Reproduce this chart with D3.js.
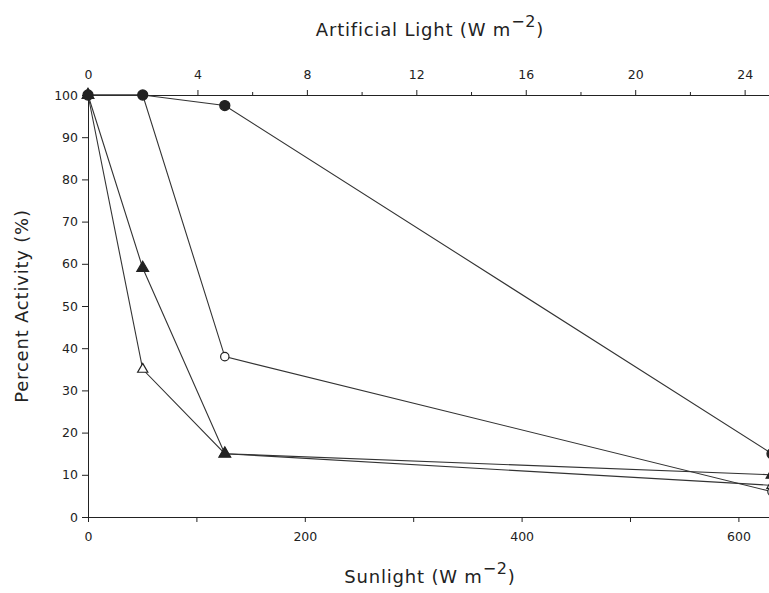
<!DOCTYPE html>
<html><head><meta charset="utf-8">
<script src="https://cdn.jsdelivr.net/npm/d3@7"></script>
<style>body{margin:0;background:#fff}svg{display:block}text{font-family:"DejaVu Sans",sans-serif;fill:#222}</style>
</head><body><svg id="c" width="769" height="593"></svg>
<script>
// Data: x in artificial light units (W m^-2), y percent activity
const lightLevels = [0, 2, 5, 25];
const filledCircle = [100, 100, 97.5, 15];
const openCircle = [100, 100, 38, 6];
const filledTriangle = [100, 59, 15, 10];
const openTriangle = [100, 35, 15, 7.5];
const yTicks = [0,10,20,30,40,50,60,70,80,90,100];
const topMajor = [0,4,8,12,16,20,24];
const topMinor = [2,6,10,14,18,22];
const bottomMajor = [0,200,400,600];
const bottomMinor = [100,300,500];

const svg = d3.select("#c");
const L = 88, R = 772, T = 95, B = 517;
const xTop = d3.scaleLinear().domain([0,25]).range([L,R]);
const xBot = d3.scaleLinear().domain([0,631]).range([L,R]);
const y = d3.scaleLinear().domain([0,100]).range([B,T]);
const ink = "#222";

function styleAxis(g){
  g.select(".domain").attr("stroke",ink);
  g.selectAll("line").attr("stroke",ink);
  g.selectAll("text").attr("font-size",12.5).attr("fill",ink).style("font-family","DejaVu Sans");
}
// Left axis
svg.append("g").attr("transform",`translate(${L},0)`)
  .call(d3.axisLeft(y).tickValues(yTicks).tickSize(6).tickPadding(4)).call(styleAxis);

// Top axis
svg.append("g").attr("transform",`translate(0,${T})`)
  .call(d3.axisTop(xTop).tickValues(topMajor).tickSize(5).tickPadding(11).tickSizeOuter(0)).call(styleAxis);
svg.append("g").attr("transform",`translate(0,${T})`)
  .call(d3.axisTop(xTop).tickValues(topMinor).tickSize(3).tickFormat(""))
  .call(g=>g.select(".domain").remove()).selectAll("line").attr("stroke",ink);

// Bottom axis
svg.append("g").attr("transform",`translate(0,${B})`)
  .call(d3.axisBottom(xBot).tickValues(bottomMajor).tickSize(5).tickPadding(10).tickSizeOuter(0)).call(styleAxis);
svg.append("g").attr("transform",`translate(0,${B})`)
  .call(d3.axisBottom(xBot).tickValues(bottomMinor).tickSize(5).tickFormat(""))
  .call(g=>g.select(".domain").remove()).selectAll("line").attr("stroke",ink);

// Titles
function unitTitle(x, yy, label){
  const t = svg.append("text").attr("text-anchor","middle").attr("font-size",18)
    .attr("letter-spacing","0.8px").attr("transform",`translate(${x},${yy})`);
  t.append("tspan").text(label + " (W m");
  t.append("tspan").attr("dy",-9).attr("font-size",16).text("\u22122");
  t.append("tspan").attr("dy",9).text(")");
}
unitTitle(430, 36, "Artificial Light");
unitTitle(430, 583, "Sunlight");
svg.append("text").attr("text-anchor","middle").attr("font-size",18).attr("letter-spacing","0.8px")
  .attr("transform","translate(28,306) rotate(-90)").text("Percent Activity (%)");

// Series
const series = [
  {vals: filledCircle, shape: d3.symbolCircle, size: 80, fill: ink},
  {vals: openCircle, shape: d3.symbolCircle, size: 55, fill: "#fff"},
  {vals: filledTriangle, shape: d3.symbolTriangle, size: 60, fill: ink},
  {vals: openTriangle, shape: d3.symbolTriangle, size: 45, fill: "#fff"}
];
const line = d3.line().x((d,i)=>xTop(lightLevels[i])).y(d=>y(d));
series.forEach(s=>{
  svg.append("path").attr("d", line(s.vals)).attr("fill","none").attr("stroke","#333").attr("stroke-width",1.1);
});
[...series].reverse().forEach(s=>{
  svg.append("g").selectAll("path").data(s.vals).join("path")
    .attr("transform",(d,i)=>`translate(${xTop(lightLevels[i])},${y(d)})`)
    .attr("d", d3.symbol().type(s.shape).size(s.size))
    .attr("fill", s.fill).attr("stroke", ink).attr("stroke-width",1.2);
});
</script></body></html>
